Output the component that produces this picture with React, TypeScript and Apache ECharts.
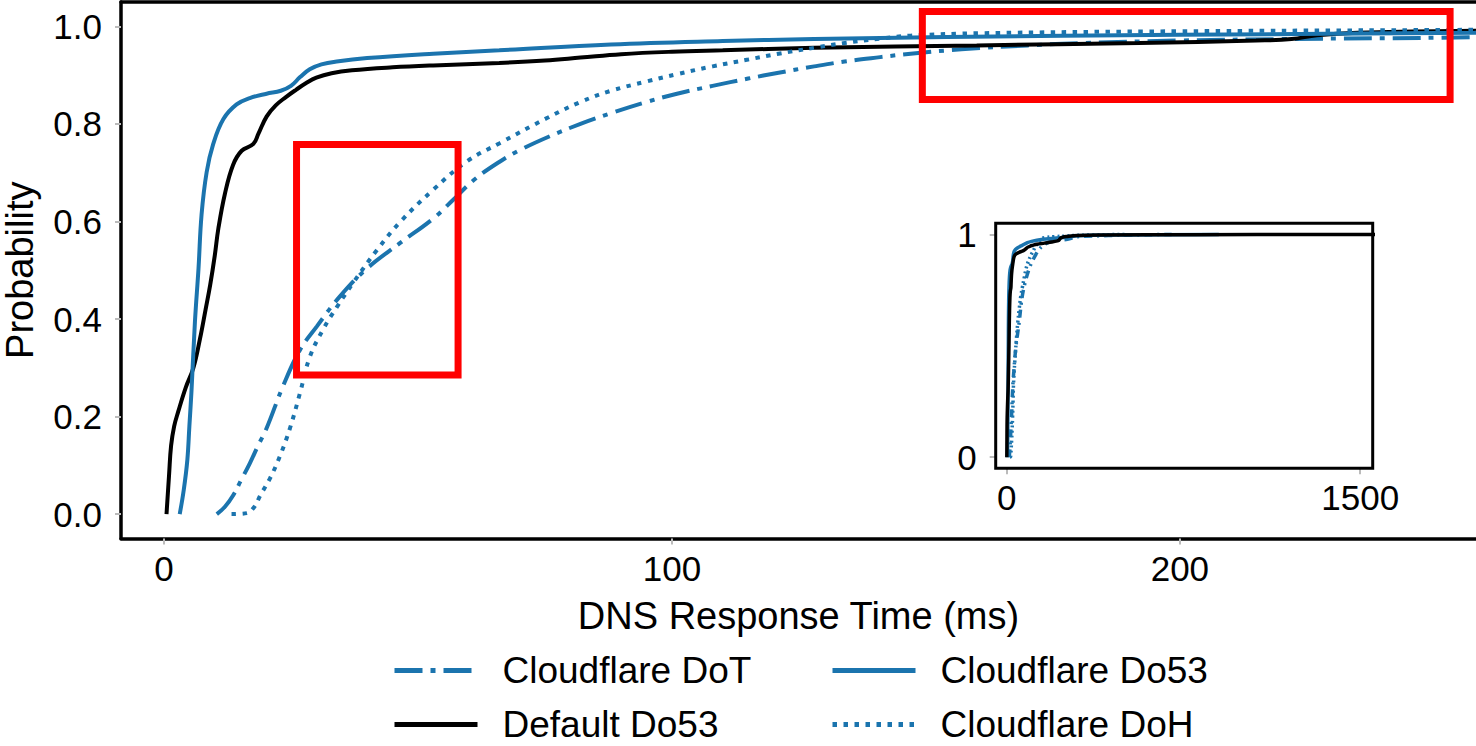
import React, { useEffect, useRef } from "react";
import * as echarts from "echarts";

// ---- data (ms, probability) ----
const dotData: [number, number][] = [
  [10.4, 0], [12, 0.015], [13.6, 0.038], [15.2, 0.07], [16.9, 0.104], [18.5, 0.14], [20.2, 0.176],
  [23.5, 0.264], [26.8, 0.337], [30.1, 0.385], [34.6, 0.446], [39.9, 0.503], [46.5, 0.556], [53, 0.606],
  [57, 0.645], [61, 0.685], [66, 0.722], [70, 0.746], [76, 0.775], [82, 0.8], [88, 0.822], [95, 0.845],
  [101, 0.862], [108, 0.878], [115, 0.893], [121, 0.905], [128, 0.918], [134, 0.928], [141, 0.937],
  [147, 0.944], [157, 0.953], [170, 0.961], [181, 0.966], [200, 0.971], [220, 0.974], [258, 0.978],
  [300, 0.99], [700, 1.0],
];
const defaultDo53Data: [number, number][] = [
  [0.5, 0], [1.0, 0.08], [1.4, 0.14], [2.0, 0.18], [2.8, 0.21], [4.3, 0.26], [5.8, 0.3], [7.1, 0.36],
  [8.2, 0.42], [9.1, 0.47], [10.0, 0.53], [10.7, 0.585], [12.0, 0.657], [13.6, 0.716], [15.3, 0.745],
  [17.6, 0.759], [18.6, 0.78], [20.2, 0.815], [22, 0.838], [24, 0.855], [26, 0.87], [28, 0.884],
  [30, 0.895], [33, 0.904], [37, 0.91], [45, 0.916], [53, 0.92], [66, 0.925], [75, 0.93], [82, 0.936],
  [90, 0.943], [100, 0.948], [110, 0.951], [128, 0.956], [160, 0.961], [192, 0.966], [215, 0.971],
  [222, 0.974], [227, 0.982], [235, 0.987], [258, 0.991], [300, 0.995], [400, 0.997], [800, 0.999],
  [1600, 1.0],
];
const cfDo53Data: [number, number][] = [
  [3.1, 0], [3.9, 0.05], [4.6, 0.111], [5.0, 0.18], [5.4, 0.249], [6.1, 0.395], [6.8, 0.504], [7.4, 0.614],
  [8.4, 0.701], [9.7, 0.759], [11.7, 0.81], [14.3, 0.84], [16.9, 0.853], [20.2, 0.862], [23, 0.868],
  [25, 0.878], [26.8, 0.896], [28.7, 0.912], [31, 0.922], [34, 0.928], [40, 0.935], [53, 0.944],
  [66, 0.951], [88, 0.963], [110, 0.97], [128, 0.974], [154, 0.978], [200, 0.983], [258, 0.987],
  [300, 0.994], [500, 0.998], [900, 1.0],
];
const dohData: [number, number][] = [
  [13.3, 0], [16.3, 0.002], [17.8, 0.015], [18.9, 0.037], [20.9, 0.074], [22.8, 0.118], [24.8, 0.176],
  [26.8, 0.249], [28.7, 0.322], [31.4, 0.38], [34, 0.424], [37.3, 0.475], [41.9, 0.541], [46.5, 0.599],
  [53, 0.665], [59.6, 0.723], [66, 0.76], [75.4, 0.812], [82, 0.845], [88, 0.868], [95, 0.887],
  [101, 0.902], [108, 0.918], [115, 0.932], [121, 0.944], [128, 0.956], [134, 0.966], [141, 0.975],
  [147, 0.981], [161, 0.986], [200, 0.99], [258, 0.993], [300, 0.996], [500, 1.0],
];

const mainXTicks = [0, 100, 200];
const mainYTicks = [0, 0.2, 0.4, 0.6, 0.8, 1.0];
const insetXTicks = [0, 1500];
const insetYTicks = [0, 1];

// highlighted regions [xFrom, yFrom, xTo, yTo] in data units
const highlightBoxes = [
  [26.1, 0.758, 57.9, 0.285],
  [149.3, 1.0305, 253.2, 0.85],
];

const BLUE = "#1b74ae";
const BLACK = "#000000";
const FONT = "Liberation Sans, Arial, Helvetica, sans-serif";
const DASHDOT = [28, 8, 5, 8];
const DOTTED = [4.5, 6.5];

export default function App() {
  const ref = useRef<HTMLDivElement>(null);
  useEffect(() => {
    if (!ref.current) return;
    const chart = echarts.init(ref.current, undefined, { renderer: "svg" });

    const tickStyle = { show: true, length: 6, lineStyle: { color: "#bbbbbb", width: 2 } };
    const labelStyle = { color: "#000", fontSize: 35, fontFamily: FONT };

    const mk = (name: string, data: [number, number][], color: string, type: any, xi: number, yi: number, width: number, z: number) => ({
      type: "line",
      name,
      data,
      xAxisIndex: xi,
      yAxisIndex: yi,
      showSymbol: false,
      symbol: "none",
      smooth: 0.4,
      z,
      lineStyle: { color, width, type, cap: "butt" },
      itemStyle: { color },
    });

    const mainSeries: any[] = [
      mk("Cloudflare DoT", dotData, BLUE, DASHDOT, 0, 0, 4, 3),
      mk("Default Do53", defaultDo53Data, BLACK, "solid", 0, 0, 4, 4),
      mk("Cloudflare Do53", cfDo53Data, BLUE, "solid", 0, 0, 4, 5),
      mk("Cloudflare DoH", dohData, BLUE, DOTTED, 0, 0, 4, 6),
    ];
    mainSeries[0].markArea = {
      silent: true,
      z: 10,
      itemStyle: { color: "rgba(0,0,0,0)", borderColor: "#ff0000", borderWidth: 7 },
      data: highlightBoxes.map((b) => [{ coord: [b[0], b[1]] }, { coord: [b[2], b[3]] }]),
    };
    const insetSeries: any[] = [
      mk("Cloudflare DoT", dotData, BLUE, [8, 5, 2, 5], 2, 1, 3.5, 3),
      mk("Cloudflare DoH", dohData, BLUE, [2, 3], 2, 1, 3.5, 4),
      mk("Cloudflare Do53", cfDo53Data, BLUE, "solid", 2, 1, 3.5, 5),
      mk("Default Do53", defaultDo53Data, BLACK, "solid", 2, 1, 3.5, 6),
    ];

    const legendItem = (name: string, left: number, top: number, type: any, color: string) => ({
      data: [name],
      left,
      top,
      padding: 0,
      orient: "horizontal",
      itemWidth: 83,
      itemHeight: 14,
      selectedMode: false,
      lineStyle: { width: 5, type, color },
      itemStyle: { color: "rgba(0,0,0,0)", opacity: 0, borderWidth: 0 },
      textStyle: { fontSize: 37, lineHeight: 37, fontFamily: FONT, color: "#000", padding: [0, 0, 0, 20] },
    });

    chart.setOption({
      animation: false,
      backgroundColor: "#ffffff",
      grid: [
        { left: 121, top: 2, right: 0, height: 536.5, containLabel: false, outerBoundsMode: "none" },
        { left: 995.7, top: 223.3, width: 377, height: 245, show: true, borderColor: "#000", borderWidth: 3, backgroundColor: "#fff", z: 1, containLabel: false, outerBoundsMode: "none" },
      ],
      xAxis: [
        {
          gridIndex: 0, type: "value", min: -8.46, max: 258.3,
          axisLine: { show: true, onZero: false, lineStyle: { color: "#000", width: 3.5 } },
          axisTick: { ...tickStyle, customValues: mainXTicks },
          axisLabel: { ...labelStyle, margin: 12, customValues: mainXTicks, formatter: (v: number) => String(v) },
          splitLine: { show: false },
          name: "DNS Response Time (ms)", nameLocation: "middle", nameGap: 58,
          nameTextStyle: { fontSize: 38, fontFamily: FONT, color: "#000" },
        },
        {
          gridIndex: 0, type: "value", position: "top", min: -8.46, max: 258.3,
          axisLine: { show: true, onZero: false, lineStyle: { color: "#000", width: 3.5 } },
          axisTick: { show: false }, axisLabel: { show: false }, splitLine: { show: false },
        },
        {
          gridIndex: 1, type: "value", min: -46.7, max: 1553,
          axisLine: { show: false, onZero: false },
          axisTick: { ...tickStyle, customValues: insetXTicks },
          axisLabel: { ...labelStyle, margin: 12, customValues: insetXTicks, formatter: (v: number) => String(v) },
          splitLine: { show: false },
        },
      ],
      yAxis: [
        {
          gridIndex: 0, type: "value", min: -0.05, max: 1.05,
          axisLine: { show: true, onZero: false, lineStyle: { color: "#000", width: 3.5 } },
          axisTick: { ...tickStyle, customValues: mainYTicks },
          axisLabel: { ...labelStyle, margin: 19, customValues: mainYTicks, formatter: (v: number) => v.toFixed(1) },
          splitLine: { show: false },
          name: "Probability", nameLocation: "middle", nameGap: 82, nameRotate: 90,
          nameTextStyle: { fontSize: 38, fontFamily: FONT, color: "#000" },
        },
        {
          gridIndex: 1, type: "value", min: -0.05, max: 1.05,
          axisLine: { show: false, onZero: false },
          axisTick: { ...tickStyle, customValues: insetYTicks },
          axisLabel: { ...labelStyle, margin: 19, customValues: insetYTicks, formatter: (v: number) => String(v) },
          splitLine: { show: false },
        },
      ],
      legend: [
        legendItem("Cloudflare DoT", 392, 652, DASHDOT, BLUE),
        legendItem("Cloudflare Do53", 830, 652, "solid", BLUE),
        legendItem("Default Do53", 392, 706, "solid", BLACK),
        legendItem("Cloudflare DoH", 830, 706, DOTTED, BLUE),
      ],
      series: [...mainSeries, ...insetSeries],
    });

    return () => chart.dispose();
  }, []);

  return (
    <div
      ref={ref}
      style={{ position: "absolute", left: 0, top: 0, width: 1476, height: 746, background: "#fff" }}
    />
  );
}
